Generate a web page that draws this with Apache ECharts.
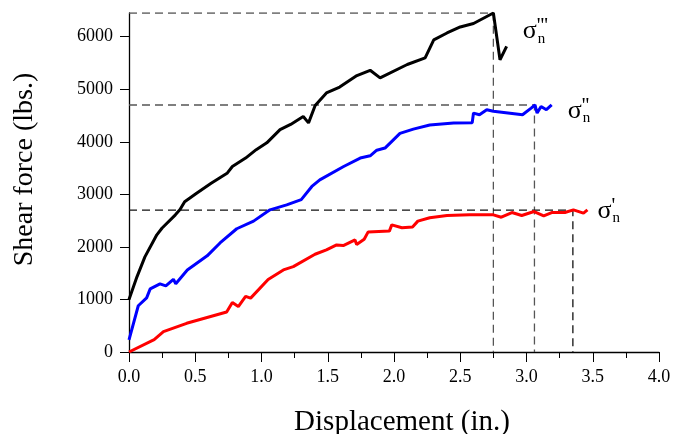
<!DOCTYPE html>
<html lang="en">
<head>
    <meta charset="UTF-8">
    <title>Shear force vs displacement</title>
    <script src="https://cdn.jsdelivr.net/npm/echarts@6.0.0/dist/echarts.min.js"></script>
    <style>
        body { margin: 0; background: #fff; }
        #chart { width: 675px; height: 434px; }
    </style>
</head>
<body>
    <div id="chart"></div>

    <script>
// data: [displacement (in.), shear force (lbs.)]
const sigma3 = [
    [0, 1000], [0.06, 1430], [0.12, 1810], [0.21, 2230], [0.25, 2360], [0.35, 2610],
    [0.385, 2710], [0.42, 2860], [0.51, 3020], [0.62, 3210], [0.74, 3400], [0.78, 3530],
    [0.88, 3690], [0.96, 3850], [1.04, 3980], [1.14, 4230], [1.22, 4330], [1.315, 4480],
    [1.355, 4360], [1.405, 4690], [1.49, 4930], [1.59, 5040], [1.72, 5260], [1.82, 5360],
    [1.895, 5215], [2.1, 5470], [2.235, 5595], [2.30, 5940], [2.40, 6070], [2.50, 6185],
    [2.60, 6250], [2.75, 6450], [2.80, 5560], [2.85, 5815]
];
const sigma2 = [
    [0, 230], [0.07, 880], [0.133, 1030], [0.16, 1200], [0.234, 1295], [0.278, 1257],
    [0.335, 1384], [0.353, 1300], [0.44, 1560], [0.59, 1830], [0.687, 2075], [0.813, 2345],
    [0.94, 2490], [1.064, 2705], [1.19, 2800], [1.30, 2900], [1.38, 3150], [1.44, 3276],
    [1.62, 3530], [1.745, 3690], [1.82, 3733], [1.87, 3840], [1.932, 3880], [2.045, 4160],
    [2.146, 4240], [2.27, 4320], [2.45, 4355], [2.59, 4360], [2.60, 4546], [2.645, 4514],
    [2.70, 4610], [2.75, 4580], [2.97, 4514], [3.035, 4640], [3.064, 4700], [3.08, 4546],
    [3.11, 4670], [3.15, 4610], [3.19, 4700]
];
const sigma1 = [
    [0, 0], [0.19, 235], [0.26, 387], [0.435, 546], [0.737, 760], [0.78, 940], [0.825, 864],
    [0.88, 1060], [0.918, 1025], [1.05, 1380], [1.165, 1562], [1.24, 1625], [1.404, 1860],
    [1.49, 1943], [1.567, 2038], [1.617, 2025], [1.706, 2133], [1.718, 2045], [1.775, 2146],
    [1.805, 2285], [1.965, 2300], [1.983, 2419], [2.06, 2365], [2.14, 2380], [2.18, 2490],
    [2.27, 2555], [2.40, 2595], [2.57, 2610], [2.75, 2610], [2.81, 2565], [2.89, 2654],
    [2.964, 2597], [3.057, 2673], [3.13, 2590], [3.19, 2654], [3.29, 2654], [3.354, 2705],
    [3.43, 2641], [3.46, 2705]
];

// peak points marked with dashed guide lines
const peaks = [[2.75, 6450], [3.06, 4700], [3.35, 2700]];
const peakColors = ['#555', '#555', '#111'];

const yTicks = [0, 1000, 2000, 3000, 4000, 5000, 6000];
const primes = ["'''", "''", "'"];

const font = 'Liberation Serif';

const chart = echarts.init(document.getElementById('chart'));

function sigmaLabel(p) {
    return '{s|σ}{p|' + p + '}{n|n}';
}

const richSigma = {
    s: { fontFamily: font, fontSize: 26, color: '#000', verticalAlign: 'middle' },
    p: { fontFamily: font, fontSize: 21, color: '#000', verticalAlign: 'top', width: 1 },
    n: { fontFamily: font, fontSize: 15, color: '#000', verticalAlign: 'bottom' }
};

function curve(data, color, p, offset) {
    return {
        type: 'line',
        data: data,
        showSymbol: false,
        z: 3,
        lineStyle: { color: color, width: 3 },
        endLabel: {
            show: true,
            formatter: sigmaLabel(p),
            rich: richSigma,
            lineHeight: 30,
            offset: offset
        }
    };
}

const guideSeries = peaks.map((pt, i) => ({
    type: 'line',
    data: [[0, pt[1]], pt, [pt[0], 0]],
    showSymbol: false,
    silent: true,
    z: 1,
    lineStyle: { color: peakColors[i], width: 1.3, type: [8, 5] }
}));

const option = {
    animation: false,
    grid: { left: 129, right: 16, top: 13, bottom: 82, outerBoundsMode: 'none' },
    xAxis: {
        type: 'value',
        min: 0,
        max: 4,
        interval: 0.5,
        name: 'Displacement (in.)',
        nameLocation: 'middle',
        nameGap: 56,
        nameTextStyle: { fontFamily: font, fontSize: 29, color: '#000', padding: [0, 0, 0, 16] },
        axisLine: { lineStyle: { color: '#000', width: 1.3 } },
        axisTick: { length: 10, lineStyle: { color: '#000' } },
        minorTick: { show: true, splitNumber: 2, length: 6, lineStyle: { color: '#000' } },
        splitLine: { show: false },
        axisLabel: {
            margin: 16,
            fontFamily: font,
            fontSize: 18,
            color: '#000',
            formatter: v => v.toFixed(1)
        }
    },
    yAxis: {
        type: 'value',
        min: 0,
        max: 6450,
        interval: 1000,
        name: 'Shear force (lbs.)',
        nameLocation: 'middle',
        nameGap: 90,
        nameTextStyle: { fontFamily: font, fontSize: 28, color: '#000', padding: [0, 0, 0, 26] },
        axisLine: { show: true, lineStyle: { color: '#000', width: 1.3 } },
        axisTick: { show: true, length: 9, customValues: yTicks, lineStyle: { color: '#000' } },
        splitLine: { show: false },
        axisLabel: {
            margin: 16,
            fontFamily: font,
            fontSize: 18,
            color: '#000',
            customValues: yTicks,
            formatter: v => String(v)
        }
    },
    series: guideSeries.concat([
        curve(sigma3, '#000000', primes[0], [8, -15]),
        curve(sigma2, '#0000ff', primes[1], [8, 6]),
        curve(sigma1, '#ff0000', primes[2], [2, 1])
    ])
};

chart.setOption(option);
    </script>
</body>
</html>
